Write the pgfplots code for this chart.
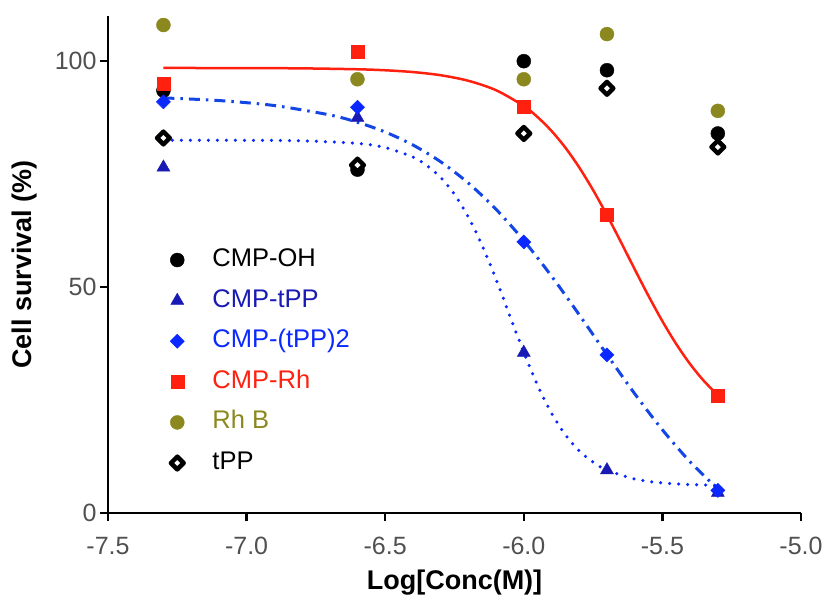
\documentclass[border=0pt]{standalone}
\usepackage{fontspec}
\setmainfont{Liberation Sans}
\usepackage{pgfplots}
\pgfplotsset{compat=1.18}
\definecolor{cred}{RGB}{255,32,16}
\definecolor{cblue}{RGB}{10,40,255}
\definecolor{cline}{RGB}{20,70,230}
\definecolor{cdblue}{RGB}{25,25,180}
\definecolor{colive}{RGB}{140,136,32}
\definecolor{tgray}{RGB}{80,80,80}
\begin{document}
\begin{tikzpicture}
\begin{axis}[
 at={(0pt,0pt)}, anchor=south west,
 scale only axis, width=693pt, height=497pt,
 xmin=-7.5, xmax=-5.0, ymin=0, ymax=110,
 axis x line=bottom, axis y line=left,
 axis line style={-, line width=2.4pt, black},
 xtick={-7.5,-7,-6.5,-6,-5.5,-5}, xticklabels={-7.5,-7.0,-6.5,-6.0,-5.5,-5.0},
 ytick={0,50,100}, yticklabels={0,50,100},
 tick align=outside, major tick length=8pt,
 tick style={line width=2.4pt, black},
 ticklabel style={font=\fontsize{25}{30}\selectfont, text=tgray},
 xticklabel style={yshift=-13pt},
 xlabel={Log[Conc(M)]}, ylabel={Cell survival (\%)},
 label style={font=\fontsize{27}{32}\selectfont\bfseries},
 xlabel style={at={(axis description cs:0.5,-0.14)}, anchor=center},
 ylabel style={at={(axis description cs:-0.12,0.5)}, anchor=center},
 clip=false,
 legend style={at={(axis cs:-7.276,59.2)}, anchor=north west, draw=none, fill=none,
   inner sep=0pt, outer sep=0pt, row sep=11.6pt, font=\fontsize{25.5}{30}\selectfont,
   nodes={inner sep=3pt, text height=18pt, text depth=5pt}},
 legend cell align=left,
 legend image code/.code={\path (-7pt,0pt) (32pt,0pt); \draw[#1] plot coordinates {(0pt,0pt)};},
]
% fitted curves
\addplot[cred, line width=2.5pt, smooth, forget plot] coordinates {
(-7.3,98.5) (-7.0,98.47) (-6.8,98.41) (-6.6,98.21) (-6.5,97.99) (-6.4,97.59)
(-6.3,96.89) (-6.2,95.66) (-6.1,93.57) (-6.0,90.08) (-5.95,87.61) (-5.9,84.56)
(-5.85,80.86) (-5.8,76.48) (-5.75,71.47) (-5.7,65.93) (-5.65,60.01) (-5.6,53.96)
(-5.55,48.03) (-5.5,42.45) (-5.45,37.39) (-5.4,32.96) (-5.35,29.21) (-5.3,26.11)};
\addplot[cline, line width=3pt, dash pattern=on 11pt off 6pt on 2.5pt off 6pt, smooth, forget plot] coordinates {
(-7.3,91.87) (-7.1,91.29) (-6.9,90.18) (-6.7,88.10) (-6.6,86.48) (-6.5,84.32)
(-6.4,81.45) (-6.3,77.74) (-6.2,73.02) (-6.1,67.21) (-6.0,60.30) (-5.9,52.43)
(-5.8,43.87) (-5.7,35.05) (-5.6,26.41) (-5.5,18.41) (-5.4,11.33) (-5.3,5.34)};
\addplot[cblue, line width=3.5pt, line cap=round, dash pattern=on 0pt off 9pt, smooth, forget plot] coordinates {
(-7.3,82.5) (-7.0,82.48) (-6.8,82.37) (-6.6,81.80) (-6.5,80.88) (-6.4,78.77)
(-6.35,76.92) (-6.3,74.25) (-6.25,70.51) (-6.2,65.52) (-6.15,59.18) (-6.1,51.71)
(-6.05,43.59) (-6.0,35.54) (-5.95,28.22) (-5.9,22.10) (-5.85,17.31) (-5.8,13.76)
(-5.75,11.24) (-5.7,9.49) (-5.6,7.52) (-5.5,6.65) (-5.4,6.28) (-5.3,6.12)};
% data
\addplot[only marks, mark=*, mark size=7pt, draw=black, fill=black] coordinates {
(-7.3,93.5) (-6.6,76) (-6.0,100) (-5.7,98) (-5.3,84)};
\addlegendentry{CMP-OH}
\addplot[only marks, mark=triangle*, mark size=7.5pt, draw=cdblue, fill=cdblue] coordinates {
(-7.3,76.5) (-6.6,87.5) (-6.0,35.5) (-5.7,9.5) (-5.3,4.5)};
\addlegendentry{\textcolor{cdblue}{CMP-tPP}}
\addplot[only marks, mark=square*, mark size=5pt, mark options={rotate=45}, draw=cblue, fill=cblue] coordinates {
(-7.3,91) (-6.6,89.8) (-6.0,60) (-5.7,35) (-5.3,5)};
\addlegendentry{\textcolor{cblue}{CMP-(tPP)2}}
\addplot[only marks, mark=square*, mark size=6.5pt, draw=cred, fill=cred] coordinates {
(-7.3,95) (-6.6,102) (-6.0,90) (-5.7,66) (-5.3,26)};
\addlegendentry{\textcolor{cred}{CMP-Rh}}
\addplot[only marks, mark=*, mark size=7pt, draw=colive, fill=colive] coordinates {
(-7.3,108) (-6.6,96) (-6.0,96) (-5.7,106) (-5.3,89)};
\addlegendentry{\textcolor{colive}{Rh B}}
\addplot[only marks, mark=square*, mark size=4.5pt, mark options={rotate=45, line width=4.5pt, line join=round, draw=black, fill=white}] coordinates {
(-7.3,83) (-6.6,77) (-6.0,84) (-5.7,94) (-5.3,81)};
\addlegendentry{tPP}
\end{axis}
\pgfresetboundingbox
\path (-108pt,-87pt) rectangle (717pt,513pt);
\end{tikzpicture}
\end{document}
